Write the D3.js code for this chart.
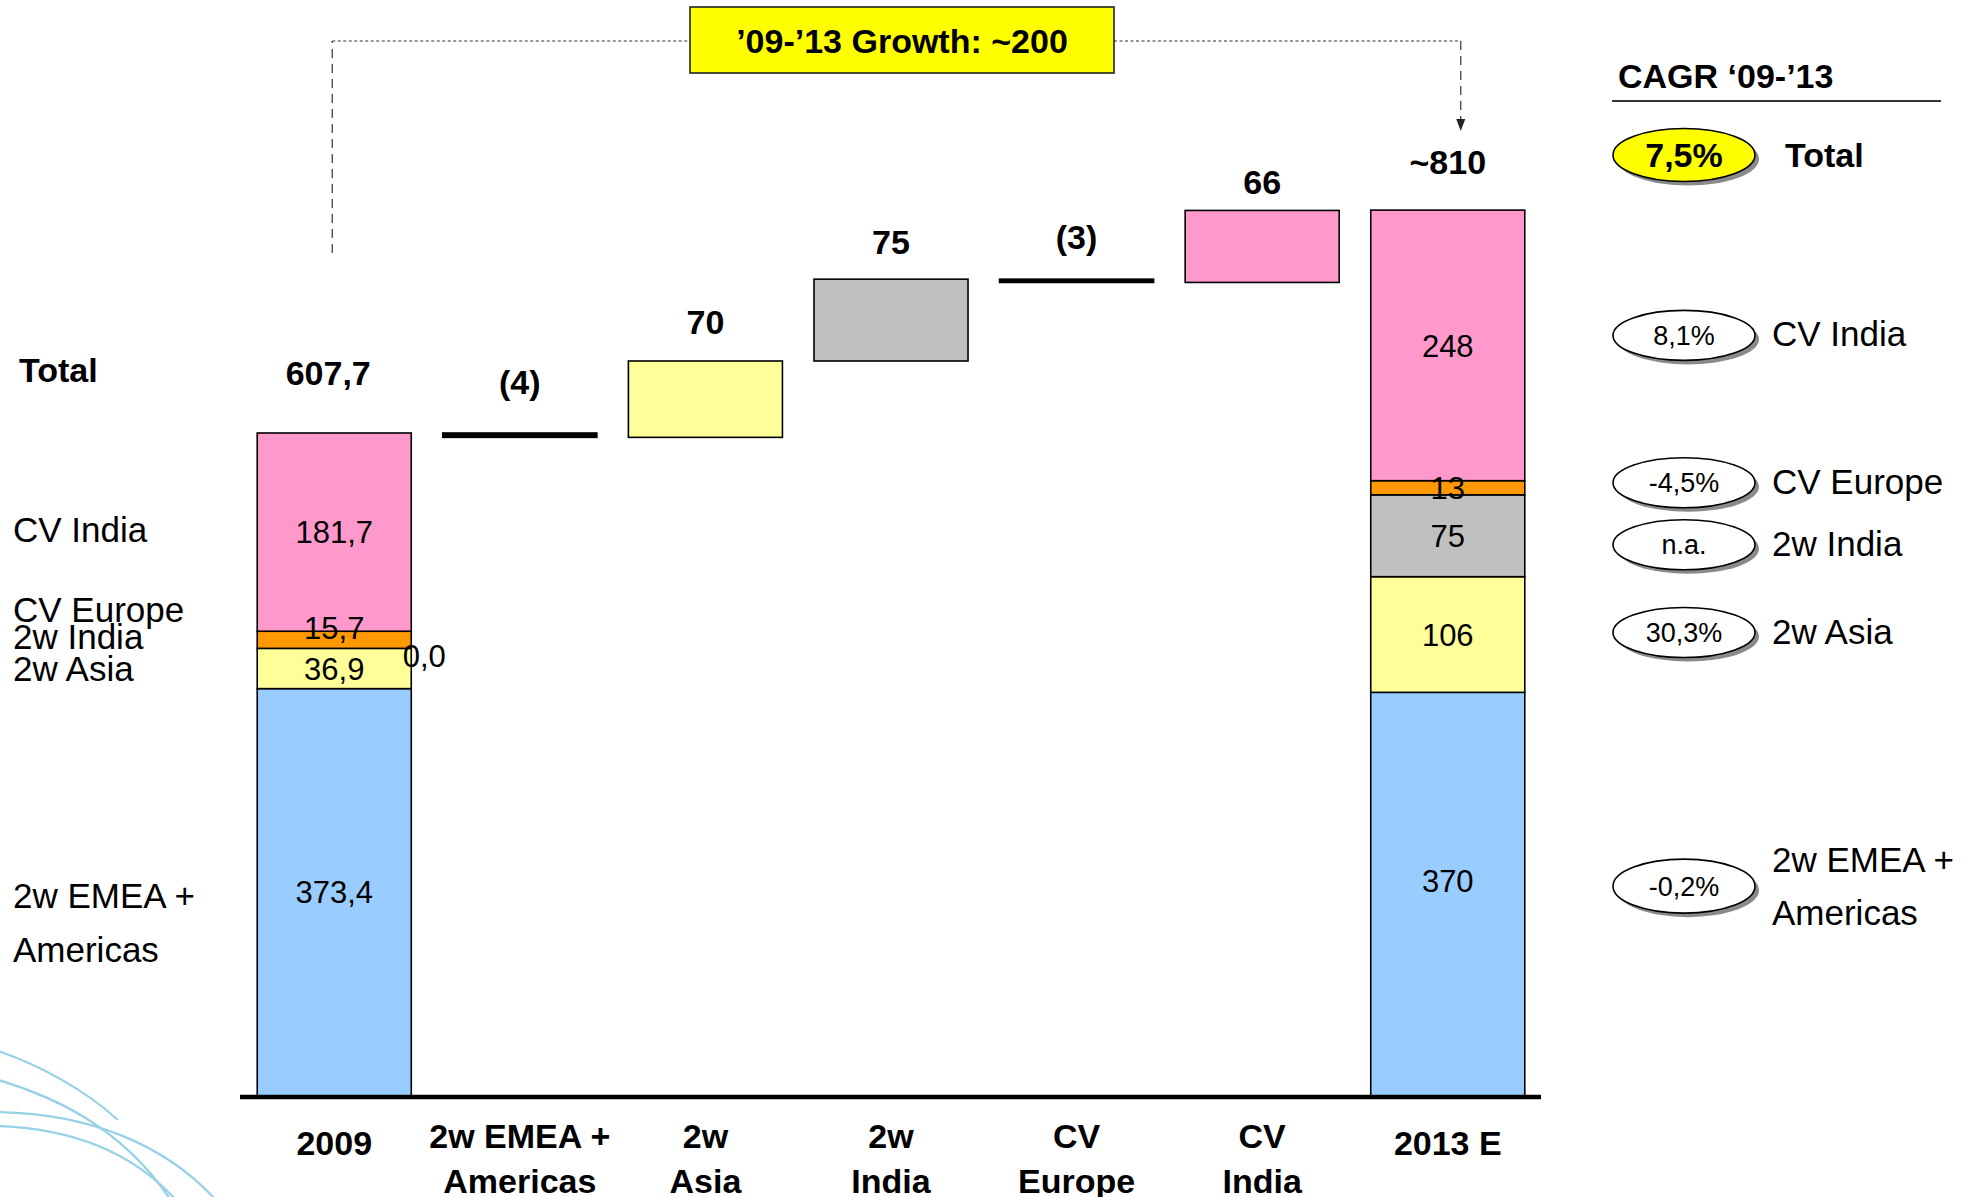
<!DOCTYPE html>
<html>
<head>
<meta charset="utf-8">
<script src="https://cdn.jsdelivr.net/npm/d3@7"></script>
<style>
  html, body { margin: 0; padding: 0; background: #fff; }
  svg { display: block; font-family: "Liberation Sans", Arial, Helvetica, sans-serif; }
</style>
</head>
<body>
<svg id="chart" width="1975" height="1197"></svg>
<script>
// ---- data ----
const categories = ["2009", "2w EMEA +|Americas", "2w|Asia", "2w|India", "CV|Europe", "CV|India", "2013 E"];
const segments = ["2w EMEA + Americas", "2w Asia", "2w India", "CV Europe", "CV India"];
const values2009 = [373.4, 36.9, 0.0, 15.7, 181.7];
const labels2009 = ["373,4", "36,9", "0,0", "15,7", "181,7"];
const values2013 = [370, 106, 75, 13, 248];
const labels2013 = ["370", "106", "75", "13", "248"];
const deltas = [-4, 70, 75, -3, 66];
const deltaLabels = ["(4)", "70", "75", "(3)", "66"];
const totalLabels = ["607,7", "~810"];
const cagrValues = ["-0,2%", "30,3%", "n.a.", "-4,5%", "8,1%"];
const cagrTotal = "7,5%";
const growthLabel = "’09-’13 Growth: ~200";

// ---- styling / layout ----
const segmentColors = ["#99CCFF", "#FFFF99", "#C0C0C0", "#FF9900", "#FF99CC"];
const topLabelLift = [48, 39, 27, 25, 30, 16, 36];          // gap between column top and its label baseline
const cagrRowNudge = [-8, -2, 9, -5, -10];                  // spread of the CAGR ovals around segment mids
const labelNudge2009 = [0, 0, 0, -12, 0];                   // vertical tweaks of in-bar value labels
const labelNudge2013 = [-13, 0, 0, 0, 0];
const leftLabels = [
  { t: "Total", y: 382, bold: true, x: 19 },
  { t: "CV India", y: 542 },
  { t: "CV Europe", y: 622 },
  { t: "2w India", y: 649 },
  { t: "2w Asia", y: 681 },
  { t: "2w EMEA +", y: 908 },
  { t: "Americas", y: 962 }
];

const svg = d3.select("#chart");

const x = d3.scaleBand()
  .domain(categories)
  .range([242, 1540])
  .paddingInner(0.17)
  .paddingOuter(0.082);

const y = d3.scaleLinear().domain([0, 1000]).range([1096, 5]);

// decorative swirl in the lower-left corner
const swirl = svg.append("g").attr("fill", "none").attr("stroke", "#86c9e2").attr("stroke-width", 2.2).attr("opacity", 0.85);
["M-5,1079 C50,1095 120,1125 170,1199",
 "M-5,1112 C90,1113 165,1145 215,1199",
 "M-5,1126 C70,1128 130,1150 175,1199",
 "M-5,1050 C40,1065 85,1090 118,1120"].forEach(d => swirl.append("path").attr("d", d));

// stacked totals
function stack(vals) {
  let acc = 0;
  return vals.map((v, i) => { const s = { i, y0: acc, y1: acc + v }; acc += v; return s; });
}
const stack2009 = stack(values2009);
const stack2013 = stack(values2013);
const total2009 = d3.sum(values2009);
const total2013 = d3.sum(values2013);

function drawStack(cat, st, labels, nudge) {
  const g = svg.append("g");
  const bx = x(cat), bw = x.bandwidth();
  g.selectAll("rect").data(st).join("rect")
    .attr("x", bx).attr("width", bw)
    .attr("y", d => y(d.y1))
    .attr("height", d => y(d.y0) - y(d.y1))
    .attr("fill", d => segmentColors[d.i])
    .attr("stroke", "#000").attr("stroke-width", 1.6);
  g.selectAll("text").data(st).join("text")
    .attr("x", d => d.y1 - d.y0 === 0 ? bx + bw + 13 : bx + bw / 2)
    .attr("y", d => (d.y1 - d.y0 === 0 ? y(d.y0) + 7 : y((d.y0 + d.y1) / 2)) + nudge[d.i])
    .attr("dy", "0.36em")
    .attr("text-anchor", "middle")
    .attr("font-size", 31)
    .text(d => labels[d.i]);
}
drawStack(categories[0], stack2009, labels2009, labelNudge2009);
drawStack(categories[6], stack2013, labels2013, labelNudge2013);

// waterfall steps
let run = total2009;
const steps = deltas.map((d, i) => {
  const s = { i, from: run, to: run + d, d };
  run += d;
  return s;
});
svg.append("g").selectAll("rect").data(steps).join("rect")
  .attr("x", s => x(categories[s.i + 1]))
  .attr("width", x.bandwidth())
  .attr("y", s => y(Math.max(s.from, s.to)))
  .attr("height", s => Math.abs(y(s.from) - y(s.to)))
  .attr("fill", s => s.d < 0 ? "#000" : segmentColors[s.i])
  .attr("stroke", "#000").attr("stroke-width", 1.6);

// labels above the columns
const topTexts = [
  { c: 0, v: total2009, t: totalLabels[0] },
  ...steps.map(s => ({ c: s.i + 1, v: Math.max(s.from, s.to), t: deltaLabels[s.i] })),
  { c: 6, v: total2013, t: totalLabels[1] }
];
svg.append("g").selectAll("text").data(topTexts).join("text")
  .attr("x", d => x(categories[d.c]) + x.bandwidth() / 2 + (d.c === 0 ? -6 : 0))
  .attr("y", d => y(d.v) - topLabelLift[d.c])
  .attr("text-anchor", "middle")
  .attr("font-size", 34).attr("font-weight", "bold")
  .text(d => d.t);

// baseline
svg.append("line")
  .attr("x1", 240).attr("x2", 1541)
  .attr("y1", y(0) + 1).attr("y2", y(0) + 1)
  .attr("stroke", "#000").attr("stroke-width", 4.5);

// category labels
const catG = svg.append("g").attr("font-size", 34).attr("font-weight", "bold").attr("text-anchor", "middle");
categories.forEach(c => {
  const lines = c.split("|");
  const t = catG.append("text").attr("x", x(c) + x.bandwidth() / 2);
  if (lines.length === 1) {
    t.attr("y", 1155).text(lines[0]);
  } else {
    lines.forEach((l, k) => t.append("tspan").attr("x", x(c) + x.bandwidth() / 2).attr("y", 1148 + k * 45).text(l));
  }
});

// left-hand segment names
svg.append("g").selectAll("text").data(leftLabels).join("text")
  .attr("x", d => d.x || 13).attr("y", d => d.y)
  .attr("font-size", d => d.bold ? 34 : 35)
  .attr("font-weight", d => d.bold ? "bold" : "normal")
  .text(d => d.t);

// growth bracket
const lx = x(categories[0]) + x.bandwidth() / 2 - 2;
const rx = x(categories[6]) + x.bandwidth() / 2 + 13;
const boxL = 690, boxR = 1114, boxT = 7, boxB = 73, bracketY = 41;
const br = svg.append("g").attr("stroke", "#333").attr("stroke-width", 1.2).attr("fill", "none");
br.append("line").attr("x1", lx).attr("x2", lx).attr("y1", 253).attr("y2", bracketY).attr("stroke-dasharray", "9,6");
br.append("line").attr("x1", lx).attr("x2", boxL).attr("y1", bracketY).attr("y2", bracketY).attr("stroke-dasharray", "3,2.5");
br.append("line").attr("x1", boxR).attr("x2", rx).attr("y1", bracketY).attr("y2", bracketY).attr("stroke-dasharray", "3,2.5");
br.append("line").attr("x1", rx).attr("x2", rx).attr("y1", bracketY).attr("y2", 120).attr("stroke-dasharray", "9,6");
svg.append("path")
  .attr("d", `M${rx - 4.5},119 L${rx + 4.5},119 L${rx},131 Z`)
  .attr("fill", "#222");
svg.append("rect")
  .attr("x", boxL).attr("y", boxT).attr("width", boxR - boxL).attr("height", boxB - boxT)
  .attr("fill", "#FFFF00").attr("stroke", "#222").attr("stroke-width", 1.6);
svg.append("text")
  .attr("x", (boxL + boxR) / 2).attr("y", 53)
  .attr("text-anchor", "middle").attr("font-size", 34).attr("font-weight", "bold")
  .text(growthLabel);

// CAGR panel
const panelX = 1684;
svg.append("text").attr("x", 1618).attr("y", 88)
  .attr("font-size", 34).attr("font-weight", "bold").text("CAGR ‘09-’13");
svg.append("line").attr("x1", 1612).attr("x2", 1941).attr("y1", 101).attr("y2", 101)
  .attr("stroke", "#333").attr("stroke-width", 2);

function oval(cy, text, opts) {
  const g = svg.append("g");
  const rxE = 71, ryE = opts.ry || 25;
  g.append("ellipse").attr("cx", panelX + 4).attr("cy", cy + 4).attr("rx", rxE).attr("ry", ryE).attr("fill", "#8a8a8a");
  g.append("ellipse").attr("cx", panelX).attr("cy", cy).attr("rx", rxE).attr("ry", ryE)
    .attr("fill", opts.fill || "#fff").attr("stroke", "#000").attr("stroke-width", 1.6);
  g.append("text").attr("x", panelX).attr("y", cy).attr("dy", "0.36em")
    .attr("text-anchor", "middle")
    .attr("font-size", opts.bold ? 34 : 27)
    .attr("font-weight", opts.bold ? "bold" : "normal")
    .text(text);
}

oval(155, cagrTotal, { fill: "#FFFF00", bold: true, ry: 26.5 });
svg.append("text").attr("x", 1785).attr("y", 167)
  .attr("font-size", 34).attr("font-weight", "bold").text("Total");

stack2013.forEach(s => {
  const cy = y((s.y0 + s.y1) / 2) + cagrRowNudge[s.i];
  oval(cy, cagrValues[s.i], { ry: s.i === 0 ? 27 : 25 });
  const name = segments[s.i];
  if (s.i === 0) {
    svg.append("text").attr("x", 1772).attr("y", cy - 14).attr("font-size", 35).text("2w EMEA +");
    svg.append("text").attr("x", 1772).attr("y", cy + 39).attr("font-size", 35).text("Americas");
  } else {
    svg.append("text").attr("x", 1772).attr("y", cy + 11).attr("font-size", 35).text(name);
  }
});
</script>
</body>
</html>
